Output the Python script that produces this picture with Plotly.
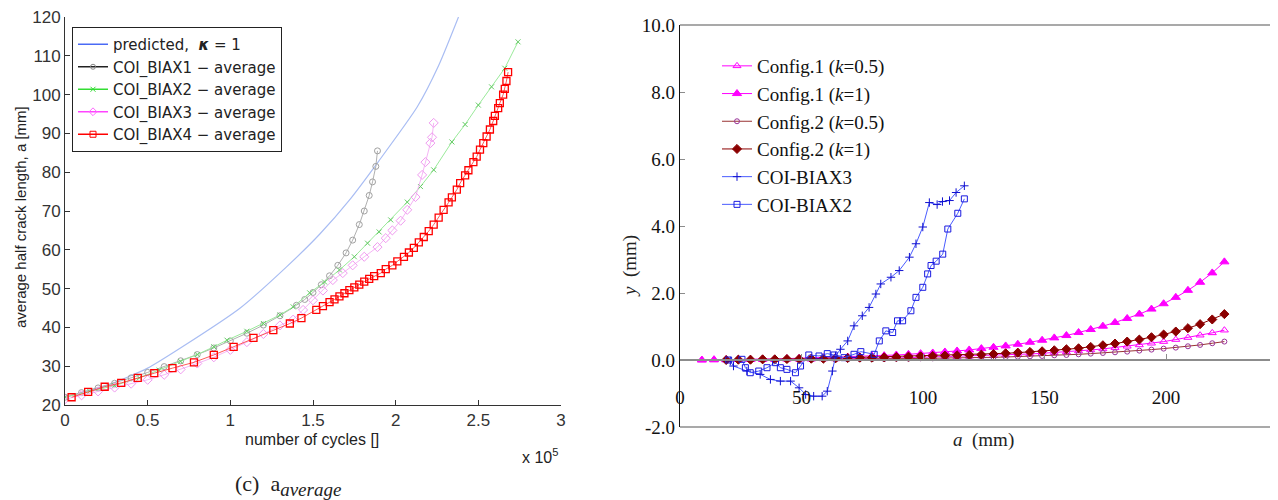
import plotly.graph_objects as go

# =========================
# LEFT PANEL DATA (cycles in units of 1e5, crack length in mm)
# =========================
pred_n = [0, 0.25, 0.5, 0.71, 1.06, 1.34, 1.54, 1.72, 1.90, 2.13, 2.26, 2.38]
pred_a = [22, 25, 29.5, 35, 45, 55.6, 64, 72.8, 83, 96.8, 107.5, 120]

biax1_n = [0, 0.1, 0.2, 0.3, 0.4, 0.5, 0.6, 0.7, 0.8, 0.9, 1.0, 1.1, 1.2, 1.3, 1.4,
           1.45, 1.5, 1.55, 1.6, 1.65, 1.7, 1.74, 1.78, 1.81, 1.84, 1.86, 1.88, 1.89]
biax1_a = [22, 23.2, 24.4, 25.6, 27, 28.4, 29.9, 31.4, 33, 34.7, 36.5, 38.5, 40.6, 43, 45.7,
           47.2, 49, 51, 53.3, 56, 59.2, 62.5, 66.5, 70, 74, 77.5, 81.5, 85.5]

biax2_n = [0, 0.15, 0.3, 0.45, 0.57, 0.7, 0.8, 0.9, 0.98, 1.1, 1.2, 1.3, 1.38, 1.48, 1.57,
           1.66, 1.75, 1.83, 1.9, 1.97, 2.07, 2.15, 2.23, 2.34, 2.42, 2.5, 2.58, 2.66, 2.74]
biax2_a = [22, 23.5, 25, 27, 29, 31.2, 33, 35, 36.7, 39, 41, 43.2, 45.3, 48.9, 51.7,
           54.8, 58.2, 61.7, 64.6, 67.7, 72.3, 76.3, 80.6, 87.8, 92.3, 97.3, 102, 106.8, 113.6]

biax3_n = [0, 0.1, 0.2, 0.3, 0.4, 0.5, 0.6, 0.7, 0.8, 0.9, 1.0, 1.1, 1.2, 1.3, 1.38, 1.44,
           1.5, 1.56, 1.62, 1.68, 1.74, 1.81, 1.89, 1.94, 1.98, 2.03, 2.07, 2.12, 2.16,
           2.18, 2.21, 2.22, 2.23]
biax3_a = [21.5, 22.5, 23.5, 24.5, 25.5, 26.5, 27.8, 29.2, 30.7, 32.3, 34.2, 36.2, 38.3, 40.5, 42, 44.5,
           47, 49.5, 52.2, 54, 56, 58.2, 60.7, 63, 65, 67.5, 70.3, 73.6, 79.3,
           82.6, 87.5, 89, 92.7]

biax4_n = [0.04, 0.14, 0.24, 0.34, 0.44, 0.54, 0.65, 0.78, 0.90, 1.02, 1.14, 1.26, 1.36, 1.43,
           1.52, 1.56, 1.60, 1.63, 1.66, 1.69, 1.72, 1.75, 1.78, 1.81, 1.84, 1.87, 1.91, 1.94,
           1.98, 2.01, 2.05, 2.08, 2.11, 2.14, 2.17, 2.20, 2.23, 2.26, 2.29, 2.32, 2.34, 2.37,
           2.39, 2.42, 2.44, 2.47, 2.49, 2.51, 2.53, 2.55, 2.57, 2.59, 2.60, 2.62, 2.63, 2.65,
           2.66, 2.67, 2.68]
biax4_a = [22, 23.4, 24.7, 25.7, 27, 28.2, 29.5, 31, 32.9, 35, 37.3, 39.3, 41, 42.4,
           44.5, 45.5, 46.5, 47.2, 48, 48.8, 49.6, 50.3, 51, 51.8, 52.5, 53.2, 54, 55,
           56, 57, 58.2, 59.3, 60.5, 61.9, 63.3, 64.8, 66.5, 68.3, 70.3, 72.2, 73.5, 75.5,
           77.2, 79.2, 80.5, 82.6, 84, 85.8, 87.5, 89.2, 91, 93.2, 94.5, 96.5, 97.8, 100,
           101.5, 103.5, 105.8]

left_names = ["predicted,  <b><i>κ</i></b> = 1", "COI_BIAX1 − average", "COI_BIAX2 − average",
              "COI_BIAX3 − average", "COI_BIAX4 − average"]

# =========================
# RIGHT PANEL DATA (a in mm, y in mm)
# =========================
cfg1_a = [9, 14, 19, 24, 29, 34, 39, 44, 49, 54, 59, 64, 69, 74, 79, 84, 89, 94, 99, 104, 109,
          114, 119, 124, 129, 134, 139, 144, 149, 154, 159, 164, 169, 174, 179, 184, 189,
          194, 199, 204, 209, 214, 219, 224]
cfg1_k05 = [0.0, 0.0, 0.0, 0.01, 0.01, 0.01, 0.01, 0.02, 0.02, 0.02, 0.03, 0.03, 0.04, 0.04,
            0.05, 0.05, 0.06, 0.07, 0.07, 0.08, 0.09, 0.1, 0.11, 0.12, 0.13, 0.15, 0.16, 0.18,
            0.2, 0.22, 0.24, 0.27, 0.3, 0.33, 0.37, 0.41, 0.45, 0.5, 0.55, 0.61, 0.67, 0.74,
            0.81, 0.89]
cfg1_k1 = [0.0, 0.01, 0.01, 0.02, 0.02, 0.03, 0.03, 0.04, 0.05, 0.06, 0.07, 0.08, 0.09, 0.1,
           0.12, 0.13, 0.15, 0.17, 0.19, 0.21, 0.24, 0.27, 0.3, 0.34, 0.38, 0.42, 0.47, 0.53,
           0.59, 0.66, 0.73, 0.82, 0.91, 1.01, 1.12, 1.24, 1.37, 1.52, 1.68, 1.87, 2.08, 2.32,
           2.6, 2.93]

cfg2_a = [19, 24, 29, 34, 39, 44, 49, 54, 59, 64, 69, 74, 79, 84, 89, 94, 99, 104, 109, 114,
          119, 124, 129, 134, 139, 144, 149, 154, 159, 164, 169, 174, 179, 184, 189, 194,
          199, 204, 209, 214, 219, 224]
cfg2_k05 = [0.0, 0.0, 0.0, 0.01, 0.01, 0.01, 0.01, 0.01, 0.02, 0.02, 0.02, 0.03, 0.03, 0.03,
            0.04, 0.04, 0.05, 0.05, 0.06, 0.06, 0.07, 0.08, 0.08, 0.09, 0.1, 0.11, 0.12, 0.14,
            0.15, 0.17, 0.19, 0.21, 0.23, 0.25, 0.28, 0.31, 0.34, 0.37, 0.41, 0.45, 0.5, 0.55]
cfg2_k1 = [0.0, 0.01, 0.01, 0.02, 0.02, 0.03, 0.03, 0.04, 0.04, 0.05, 0.06, 0.07, 0.07, 0.08,
           0.09, 0.1, 0.11, 0.12, 0.13, 0.14, 0.15, 0.16, 0.18, 0.2, 0.22, 0.24, 0.26, 0.29,
           0.32, 0.35, 0.39, 0.44, 0.49, 0.55, 0.61, 0.68, 0.76, 0.85, 0.95, 1.07, 1.21, 1.37]

coi3_a = [20.7, 22, 27.5, 33, 37.2, 41.3, 45.5, 49, 51.7, 55, 58.5, 60.6, 62.7, 64, 66, 69,
          71.6, 75, 77.8, 80.6, 82.6, 86.8, 90.2, 94.4, 97.1, 99.9, 102.6, 105.8, 108,
          110.9, 113.6, 117]
coi3_y = [-0.03, -0.18, -0.33, -0.43, -0.58, -0.63, -0.63, -0.83, -1.03, -1.08, -1.08, -0.93,
          -0.33, 0.12, 0.32, 0.57, 1.02, 1.32, 1.57, 1.97, 2.27, 2.47, 2.67, 3.07, 3.47, 3.97,
          4.7, 4.64, 4.73, 4.76, 5.0, 5.2]

coi2_a = [20, 25.5, 26.9, 28.9, 32.4, 35.8, 39.3, 41.3, 44, 47.5, 49.6, 53, 57.2, 60.6, 63.4,
          67.5, 71.6, 74.4, 79.9, 82, 84.7, 87.5, 89.5, 91.6, 95, 97.1, 99.9, 101.9, 103.3,
          105.4, 108.1, 110.2, 114.3, 117]
coi2_y = [0.0, 0.02, -0.23, -0.38, -0.33, -0.23, -0.08, -0.23, -0.28, -0.38, -0.18, 0.15,
          0.12, 0.19, 0.15, 0.07, 0.17, 0.25, 0.17, 0.57, 0.87, 0.82, 1.17, 1.17, 1.47, 1.87,
          2.17, 2.57, 2.82, 2.95, 3.16, 3.91, 4.38, 4.81]

y_ticks = [-2, 0, 2, 4, 6, 8, 10]
y_ticktext = ["-2.0", "0.0", "2.0", "4.0", "6.0", "8.0", "10.0"]

SANS = "Liberation Sans, Arial, sans-serif"
LEG_SANS = "DejaVu Sans, Liberation Sans, sans-serif"
SERIF = "Liberation Serif, Times New Roman, serif"

# the page body keeps its 8px margin, so the figure is 8px smaller and
# every layout position below is given in window pixels minus that offset
OFF = 8
W, H = 1278 - OFF, 500 - OFF


def px(x):
    return (x - OFF) / W


def py(y):
    return 1 - (y - OFF) / H


def note(text, x, y, size, family, angle=0):
    return dict(text=text, x=x, y=y, xref="paper", yref="paper", xanchor="center",
                yanchor="middle", textangle=angle, showarrow=False,
                font=dict(family=family, size=size, color="#222"))


fig = go.Figure()

# =========================
# LEFT PANEL
# =========================
fig.add_trace(go.Scatter(x=pred_n, y=pred_a, mode="lines",
                         line=dict(color="#a9bdf3", width=1.2, shape="spline", smoothing=0.6),
                         showlegend=False, xaxis="x", yaxis="y"))
fig.add_trace(go.Scatter(x=biax1_n, y=biax1_a, mode="lines+markers",
                         line=dict(color="#b0b0b0", width=1),
                         marker=dict(symbol="circle-open", size=6, color="#a0a0a0"),
                         showlegend=False, xaxis="x", yaxis="y"))
fig.add_trace(go.Scatter(x=biax2_n, y=biax2_a, mode="lines+markers",
                         line=dict(color="#9aea9a", width=1),
                         marker=dict(symbol="x-thin-open", size=5, color="#66cc66",
                                     line=dict(width=1, color="#66cc66")),
                         showlegend=False, xaxis="x", yaxis="y"))
fig.add_trace(go.Scatter(x=biax3_n, y=biax3_a, mode="lines+markers",
                         line=dict(color="#f5b5f5", width=1),
                         marker=dict(symbol="diamond-open", size=7, color="#f09af0"),
                         showlegend=False, xaxis="x", yaxis="y"))
fig.add_trace(go.Scatter(x=biax4_n, y=biax4_a, mode="lines+markers",
                         line=dict(color="#ff3030", width=0.8),
                         marker=dict(symbol="square-open", size=7, color="#ff0000",
                                     line=dict(width=1.3)),
                         showlegend=False, xaxis="x", yaxis="y"))

# legend-only entries (the legend uses the saturated colours)
legend_styles = [
    dict(mode="lines", line=dict(color="#4a6af5", width=1.5)),
    dict(mode="lines+markers", line=dict(color="#222222", width=1.5),
         marker=dict(symbol="circle-open", size=5, color="#888888")),
    dict(mode="lines+markers", line=dict(color="#33dd33", width=1.5),
         marker=dict(symbol="x-thin-open", size=5, color="#33dd33", line=dict(width=1, color="#33dd33"))),
    dict(mode="lines+markers", line=dict(color="#ff44ff", width=1.5),
         marker=dict(symbol="diamond-open", size=6, color="#ff66ff")),
    dict(mode="lines+markers", line=dict(color="#ff0000", width=1.5),
         marker=dict(symbol="square-open", size=6, color="#ff0000")),
]
for name, st in zip(left_names, legend_styles):
    fig.add_trace(go.Scatter(x=[None], y=[None], name=name, legend="legend",
                             xaxis="x", yaxis="y", **st))

# =========================
# RIGHT PANEL
# =========================
right = [
    ("Config.1 (<i>k</i>=0.5)", cfg1_a, cfg1_k05, "#ff00ff", "#ff00ff", "triangle-up-open", 7),
    ("Config.1 (<i>k</i>=1)", cfg1_a, cfg1_k1, "#ff00ff", "#ff00ff", "triangle-up", 8),
    ("Config.2 (<i>k</i>=0.5)", cfg2_a, cfg2_k05, "#993333", "#993399", "circle-open", 5),
    ("Config.2 (<i>k</i>=1)", cfg2_a, cfg2_k1, "#8b0000", "#8b0000", "diamond", 7),
    ("COI-BIAX3", coi3_a, coi3_y, "#4a5cff", "#1010d0", "cross-thin-open", 6),
    ("COI-BIAX2", coi2_a, coi2_y, "#4a5cff", "#1a1ae0", "square-open", 6),
]
for name, xs, ys, lc, mc, sym, sz in right:
    fig.add_trace(go.Scatter(x=xs, y=ys, name=name, mode="lines+markers",
                             line=dict(color=lc, width=1),
                             marker=dict(symbol=sym, size=sz, color=mc,
                                         line=dict(width=1, color=mc)),
                             legend="legend2", xaxis="x2", yaxis="y2"))

y2_dom = [py(427), py(25)]
zero_pos = y2_dom[0] + (y2_dom[1] - y2_dom[0]) * 2 / 12

fig.update_layout(
    width=W, height=H,
    margin=dict(l=0, r=0, t=0, b=0, autoexpand=False),
    paper_bgcolor="white", plot_bgcolor="white",
    font=dict(family=SANS, color="#222"),
    xaxis=dict(domain=[px(65), px(561)], range=[0, 3], dtick=0.5, showgrid=False,
               zeroline=False, showline=True, linecolor="#333", linewidth=1,
               ticks="inside", ticklen=5, tickcolor="#333", automargin=False,
               ticklabeloverflow="allow",
               tickfont=dict(family=SANS, size=17, color="#333"), anchor="y"),
    yaxis=dict(domain=[py(405), py(17)], range=[20, 120], dtick=10, showgrid=False,
               zeroline=False, showline=True, linecolor="#333", linewidth=1,
               ticks="inside", ticklen=5, tickcolor="#333", automargin=False,
               ticklabeloverflow="allow",
               tickfont=dict(family=SANS, size=17, color="#333"), anchor="x"),
    xaxis2=dict(domain=[px(680), px(1273)], range=[0, 244], tickvals=[0, 50, 100, 150, 200],
                showgrid=False, zeroline=False, showline=True, linecolor="#8c8c8c",
                linewidth=1.5, ticks="inside", ticklen=5, tickcolor="#8c8c8c",
                anchor="free", position=zero_pos, ticklabelstandoff=20, automargin=False,
                ticklabeloverflow="allow",
                tickfont=dict(family=SERIF, size=19, color="#111")),
    yaxis2=dict(domain=y2_dom, range=[-2, 10], tickvals=y_ticks, ticktext=y_ticktext,
                showgrid=False, zeroline=False, showline=True, linecolor="#111",
                linewidth=1.2, ticks="inside", ticklen=5, tickcolor="#8c8c8c",
                anchor="x2", automargin=False, ticklabeloverflow="allow",
                tickfont=dict(family=SERIF, size=19, color="#111")),
    legend=dict(x=px(72), y=py(27), xanchor="left", yanchor="top",
                bordercolor="#222", borderwidth=1, bgcolor="white",
                font=dict(family=LEG_SANS, size=15, color="#222"),
                itemwidth=30, tracegroupgap=0),
    legend2=dict(x=px(717), y=py(47), xanchor="left", yanchor="top",
                 bgcolor="rgba(0,0,0,0)", borderwidth=0,
                 font=dict(family=SERIF, size=19, color="#111"),
                 itemwidth=30, tracegroupgap=0),
    shapes=[
        dict(type="line", xref="x2 domain", yref="y2 domain", x0=0, x1=1, y0=1, y1=1,
             line=dict(color="#8c8c8c", width=1.5)),
        dict(type="line", xref="x2 domain", yref="y2 domain", x0=0, x1=1, y0=0, y1=0,
             line=dict(color="#8c8c8c", width=1.5)),
    ],
    annotations=[
        note("average half crack length, a [mm]", px(20), py(217), 15, SANS, -90),
        note("number of cycles []", px(312), py(439), 16, SANS),
        note("x 10<sup>5</sup>", px(540), py(456), 16, SANS),
        note("(c)  a<sub><span style='font-size:19px'><i>average</i></span></sub>",
             px(288), py(485), 22, SERIF),
        note("<i>y</i>  (mm)", px(630), py(266), 19, SERIF, -90),
        note("<i>a</i>  (mm)", px(983), py(440), 19, SERIF),
        # the tick label at 250 is cut by the right edge in the reference
        note("250", px(1288), py(392), 19, SERIF),
    ],
)

fig.write_html("out.html")
